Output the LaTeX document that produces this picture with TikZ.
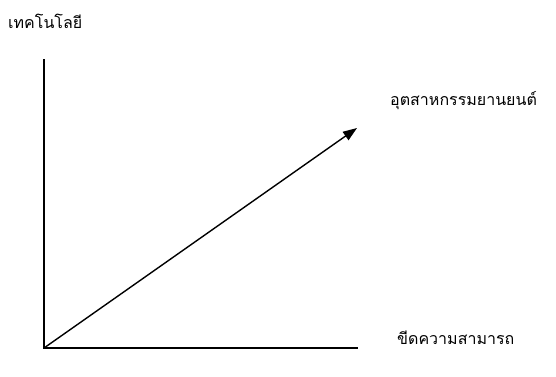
\documentclass[tikz,border=0pt]{standalone}
\usepackage{fontspec}
\newfontfamily\thaifont[Script=Thai]{Loma}
\usetikzlibrary{arrows.meta}
\tikzset{
  axis/.style={line width=1.4pt, line cap=rect},
  lbl/.style={font=\thaifont\fontsize{16}{18}\selectfont, inner sep=0pt, anchor=base west, text=black}
}
\begin{document}
\begin{tikzpicture}[x=1pt,y=-1pt]
\useasboundingbox (0,0) rectangle (556,376);
\coordinate (O) at (44,348);
\coordinate (ytop) at (44,60);
\coordinate (xend) at (357,348);
\coordinate (tip) at (357,128);
\draw[axis] (ytop) -- (O) -- (xend);
\draw[line width=1.4pt, -{Triangle[length=14pt,width=10pt]}] (O) -- (tip);
\node[lbl] (tech) at (8,28) {เทคโนโลยี};
\node[lbl] (auto) at (390,105) {อุตสาหกรรมยานยนต์};
\node[lbl] (cap) at (397,344) {ขีดความสามารถ};
\end{tikzpicture}
\end{document}
